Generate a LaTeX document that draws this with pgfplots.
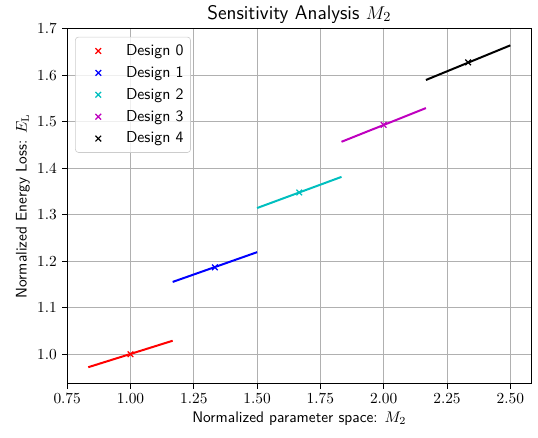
\documentclass[border=0pt]{standalone}
\usepackage{fontspec}
\usepackage{pgfplots}
\pgfplotsset{compat=1.18}
\definecolor{mplc}{rgb}{0,0.75,0.75}
\definecolor{mplm}{rgb}{0.75,0,0.75}
\pgfplotsset{
  lgx/.style={only marks, mark=x, mark size=2.6pt, line width=0.8pt,
    legend image code/.code={\node[draw=none, fill=none, inner sep=0pt, minimum width=1.0cm, minimum height=0pt, anchor=west] at (0cm,0cm) {}; \draw[##1] plot coordinates {(0.45cm,0cm)};}},
}
\begin{document}
\begin{tikzpicture}
\begin{axis}[
  name=ax,
  scale only axis, width=302pt, height=231pt,
  xmin=0.75, xmax=2.5833, ymin=0.9365, ymax=1.7005,
  xtick={0.75,1.00,1.25,1.50,1.75,2.00,2.25,2.50},
  ytick={1.0,1.1,1.2,1.3,1.4,1.5,1.6,1.7},
  xticklabel style={/pgf/number format/.cd, fixed, fixed zerofill, precision=2},
  yticklabel style={/pgf/number format/.cd, fixed, fixed zerofill, precision=1},
  scaled ticks=false,
  grid=major, grid style={color=black!31, line width=0.6pt},
  axis line style={line width=0.6pt},
  tick align=outside, tick pos=left, major tick length=3.2pt,
  tick style={line width=0.6pt, black},
  title={\fontsize{12.8}{15}\selectfont\sffamily Sensitivity Analysis $M_2$},
  title style={yshift=-6pt},
  xlabel={\sffamily Normalized parameter space: $M_2$},
  xlabel style={yshift=2pt},
  ylabel={\sffamily Normalized Energy Loss: $E_\mathrm{L}$},
  ylabel style={yshift=-2pt},
  legend style={at={(0.017,0.977)}, anchor=north west, draw=black!20, rounded corners=2pt, fill=white, fill opacity=0.8, text opacity=1, font=\fontsize{10.3}{12.5}\selectfont\sffamily, row sep=1.6pt, inner sep=2.5pt, inner ysep=2.7pt},
  legend cell align=left,
]
\addplot[red, line width=1.3pt, forget plot] coordinates {(0.8333,0.972) (1.1667,1.029)};
\addplot[blue, line width=1.3pt, forget plot] coordinates {(1.1667,1.1555) (1.5,1.2195)};
\addplot[mplc, line width=1.3pt, forget plot] coordinates {(1.5,1.3145) (1.8333,1.3815)};
\addplot[mplm, line width=1.3pt, forget plot] coordinates {(1.8333,1.457) (2.1667,1.5295)};
\addplot[black, line width=1.3pt, forget plot] coordinates {(2.1667,1.590) (2.5,1.6645)};
\addplot[red, lgx] coordinates {(1.0,1.0)};
\addlegendentry{Design 0}
\addplot[blue, lgx] coordinates {(1.3333,1.187)};
\addlegendentry{Design 1}
\addplot[mplc, lgx] coordinates {(1.6667,1.348)};
\addlegendentry{Design 2}
\addplot[mplm, lgx] coordinates {(2.0,1.4935)};
\addlegendentry{Design 3}
\addplot[black, lgx] coordinates {(2.3333,1.628)};
\addlegendentry{Design 4}
\end{axis}
\path ([xshift=-7pt,yshift=-5pt]ax.outer south west) -- ([xshift=4pt]ax.outer north east);
\end{tikzpicture}
\end{document}
